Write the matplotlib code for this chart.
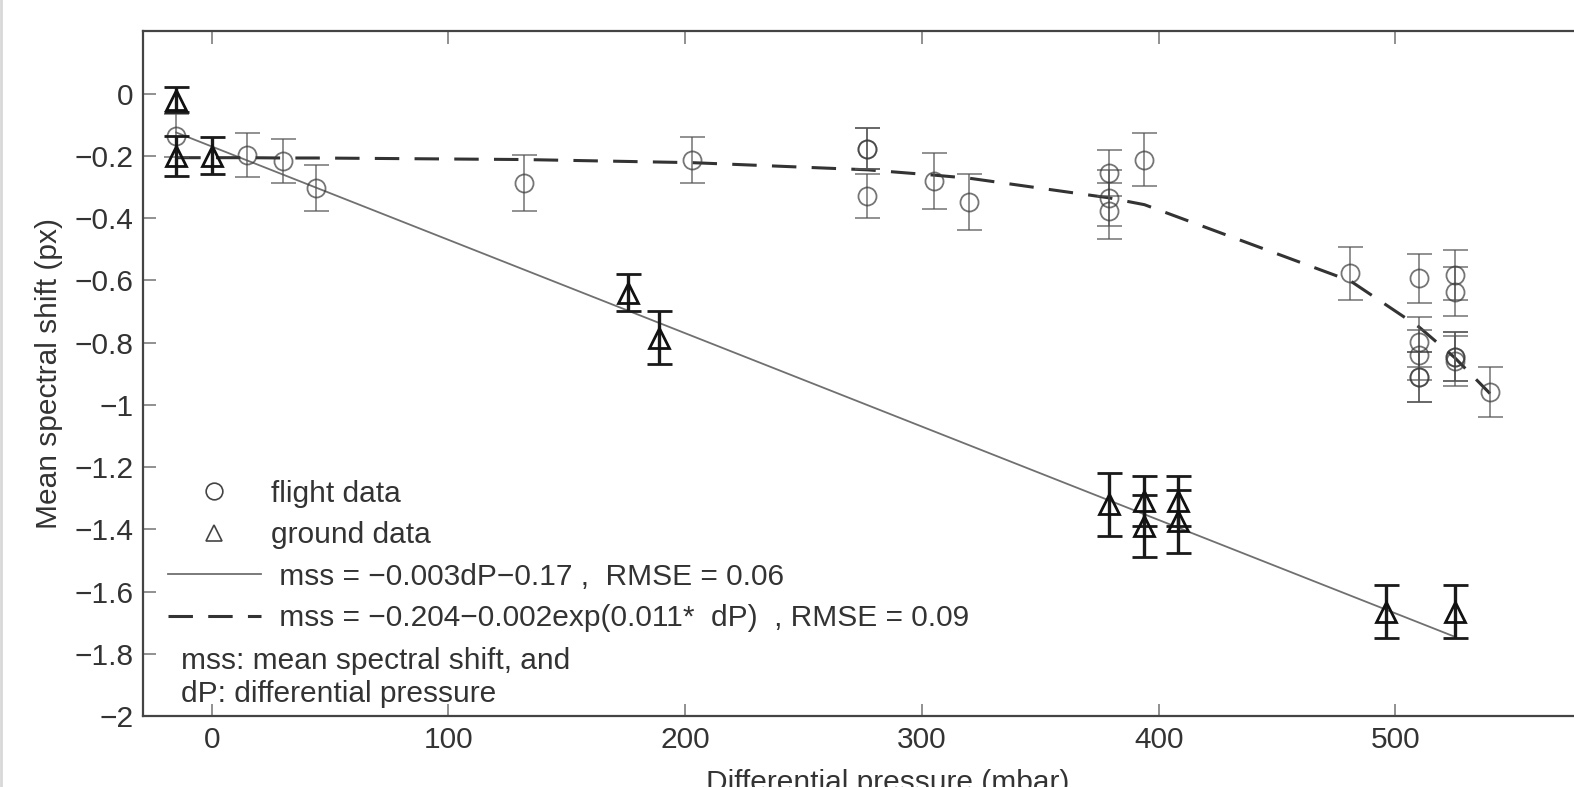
import matplotlib
matplotlib.use("Agg")
import matplotlib.pyplot as plt
from matplotlib.lines import Line2D

plt.rcParams['font.family'] = ['Liberation Sans', 'DejaVu Sans']

# flight data (circles) : pression differentielle, decalage spectral moyen, erreur
flight_dp = [-15, 15, 30, 44, 132, 203, 277, 277, 277, 305, 320, 379, 379, 379,
             394, 481, 510, 510, 510, 510, 510, 525, 525, 525, 525, 525, 540]
flight_mss = [-0.135, -0.197, -0.217, -0.303, -0.287, -0.213, -0.177, -0.177, -0.33,
              -0.28, -0.348, -0.255, -0.335, -0.378, -0.213, -0.578, -0.594, -0.797,
              -0.84, -0.91, -0.91, -0.584, -0.636, -0.845, -0.845, -0.86, -0.958]
flight_err = [0.07, 0.07, 0.07, 0.075, 0.09, 0.075, 0.065, 0.065, 0.07, 0.09, 0.09,
              0.075, 0.09, 0.09, 0.085, 0.085, 0.08, 0.08, 0.08, 0.08, 0.08, 0.08, 0.08,
              0.08, 0.08, 0.08, 0.08]

# ground data (triangles)
ground_dp = [-15, -15, 0, 176, 189, 379, 394, 394, 408, 408, 496, 525]
ground_mss = [-0.02, -0.2, -0.2, -0.64, -0.785, -1.32, -1.31, -1.39, -1.31, -1.375,
              -1.665, -1.665]
ground_err = [0.04, 0.065, 0.06, 0.06, 0.085, 0.1, 0.08, 0.1, 0.08, 0.1, 0.085, 0.085]

# droites d'ajustement
lin_dp = [-15, 525]
lin_mss = [-0.125, -1.745]
exp_dp = [-15, 15, 30, 44, 132, 203, 277, 305, 320, 379, 394, 481, 510, 525, 540]
exp_mss = [-0.206, -0.206, -0.207, -0.207, -0.212, -0.222, -0.245, -0.262, -0.272,
           -0.335, -0.357, -0.602, -0.75, -0.848, -0.964]

y_ticks = [0, -0.2, -0.4, -0.6, -0.8, -1, -1.2, -1.4, -1.6, -1.8, -2]
y_labels = ['0', '\u22120.2', '\u22120.4', '\u22120.6', '\u22120.8', '\u22121',
            '\u22121.2', '\u22121.4', '\u22121.6', '\u22121.8', '\u22122']
x_ticks = [0, 100, 200, 300, 400, 500]

txt_col = '#333333'
fs = 21.5

fig = plt.figure(figsize=(15.74, 7.87), dpi=100)
ax = fig.add_axes([0.0909, 0.0902, 0.946, 0.870])

ax.plot(lin_dp, lin_mss, color='#707070', lw=1.3, zorder=2)
ax.plot(exp_dp, exp_mss, color='#333333', lw=2.2, linestyle=(0, (8, 5)), zorder=2)

ax.errorbar(flight_dp, flight_mss, yerr=flight_err, fmt='o', ms=13, mfc='none',
            mec='#3a3a3a', mew=1.3, ecolor='#555555', elinewidth=1.3, capsize=9,
            capthick=1.6, alpha=0.7, zorder=3)
ax.errorbar(ground_dp, ground_mss, yerr=ground_err, fmt='^', ms=14, mfc='none',
            mec='#111111', mew=2.0, ecolor='#1a1a1a', elinewidth=2.4, capsize=9,
            capthick=2.8, zorder=4)

ax.set_xlim(-29, 600)
ax.set_ylim(-2, 0.2)
ax.set_xticks(x_ticks)
ax.set_yticks(y_ticks)
ax.set_yticklabels(y_labels)
ax.tick_params(direction='in', length=9, width=1.3, color='#888888',
               labelsize=fs, labelcolor=txt_col, top=True, right=True, pad=7)
for s in ax.spines.values():
    s.set_color('#444444')
    s.set_linewidth(1.6)

ax.set_ylabel('Mean spectral shift (px)', fontsize=fs, color=txt_col, labelpad=8)
ax.set_xlabel('Differential pressure (mbar)', fontsize=fs, color=txt_col, labelpad=11)

handles = [
    Line2D([], [], ls='none', marker='o', ms=12, mfc='none', mec='#444444', mew=1.2),
    Line2D([], [], ls='none', marker='^', ms=12, mfc='none', mec='#444444', mew=1.2),
    Line2D([], [], color='#707070', lw=1.3),
    Line2D([], [], color='#333333', lw=2.2, linestyle=(0, (8, 5))),
]
labels = ['flight data', 'ground data',
          ' mss = \u22120.003dP\u22120.17 ,  RMSE = 0.06',
          ' mss = \u22120.204\u22120.002exp(0.011*  dP)  , RMSE = 0.09']
leg = ax.legend(handles, labels, loc='upper left', bbox_to_anchor=(0.0168, 0.345),
                frameon=False, fontsize=fs, handlelength=3.1, handletextpad=0.35,
                labelspacing=0.45, borderpad=0, borderaxespad=0)
for t in leg.get_texts():
    t.set_color(txt_col)

ax.text(0.0255, 0.012, 'mss: mean spectral shift, and\ndP: differential pressure',
        transform=ax.transAxes, fontsize=fs, color=txt_col, va='bottom', ha='left',
        linespacing=1.2)

# bord gris a gauche de l'image
fig.add_artist(Line2D([0.0008, 0.0008], [0, 1], transform=fig.transFigure,
                      color='#d8d8d8', lw=2))

fig.savefig('out.png', dpi=100)
